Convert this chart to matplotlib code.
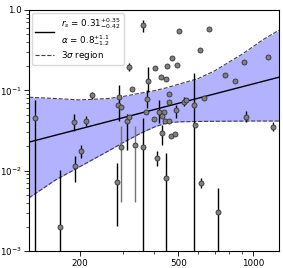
import numpy as np
import matplotlib
matplotlib.use("Agg")
import matplotlib.pyplot as plt
from matplotlib.ticker import LogLocator, NullFormatter

# measurements (x, y, lower / upper error); lower errors > y run off the bottom
x = [131.5, 224.6, 190.1, 211.4, 202.8, 191.9, 167.0, 359.4, 502.5, 662.3,
     613.3, 315.8, 401.7, 447.7, 469.7, 493.4, 424.2, 444.3, 376.1, 324.6,
     287.8, 285.6, 292.4, 372.9, 456.0, 458.1, 526.3, 538.6, 576.2, 633.5,
     773.1, 842.3, 915.5, 1148.6, 936.1, 1199.6, 585.4, 368.4, 417.6, 435.4,
     430.2, 486.5, 396.8, 439.4, 457.2, 309.0, 315.8, 359.4, 427.4, 464.5,
     482.0, 410.0, 444.6, 282.2, 618.9, 719.6]
y = [0.0452, 0.0867, 0.0409, 0.0415, 0.0175, 0.0114, 0.00201, 0.650, 0.540, 0.577,
     0.322, 0.197, 0.187, 0.201, 0.250, 0.204, 0.146, 0.140, 0.132, 0.103,
     0.0819, 0.0657, 0.0629, 0.0780, 0.0900, 0.0726, 0.0726, 0.0758, 0.0653, 0.0796,
     0.1565, 0.1314, 0.2265, 0.2577, 0.0469, 0.0353, 0.0375, 0.0530, 0.0530, 0.0545,
     0.0479, 0.0569, 0.0436, 0.0419, 0.0419, 0.0415, 0.0462, 0.0197, 0.0292, 0.0272,
     0.0282, 0.0143, 0.00822, 0.00716, 0.00712, 0.00303]
err_lo = [0.05, 0.0076, 0.0095, 0.0055, 0.0031, 0.0041, 0.003, 0.113, 0.01, 0.01,
          0.006, 0.024, 0.004, 0.004, 0.005, 0.004, 0.003, 0.003, 0.0365, 0.002,
          0.0404, 0.001, 0.001, 0.0177, 0.002, 0.001, 0.0088, 0.001, 0.07, 0.001,
          0.003, 0.002, 0.004, 0.005, 0.0066, 0.0041, 0.001, 0.001, 0.0138, 0.001,
          0.001, 0.0117, 0.001, 0.001, 0.001, 0.0234, 0.001, 0.025, 0.0083, 0.001,
          0.001, 0.0029, 0.009, 0.0051, 0.001, 0.004]
err_hi = [0.031, 0.0086, 0.0098, 0.0064, 0.0036, 0.0037, 0.0083, 0.111, 0.01, 0.01,
          0.006, 0.022, 0.004, 0.004, 0.005, 0.004, 0.003, 0.003, 0.063, 0.002,
          0.0356, 0.001, 0.001, 0.023, 0.002, 0.001, 0.010, 0.001, 0.099, 0.001,
          0.003, 0.002, 0.004, 0.005, 0.0084, 0.0056, 0.001, 0.001, 0.0228, 0.001,
          0.001, 0.0088, 0.001, 0.001, 0.001, 0.0092, 0.001, 0.0255, 0.0078, 0.001,
          0.001, 0.0033, 0.0084, 0.0053, 0.001, 0.0031]

# two points whose error bars are drawn in grey
gx = [292.4, 332.9]
gy = [0.0197, 0.0207]
g_lo = [0.0156, 0.0166]
g_hi = [0.0163, 0.0153]

# fitted power law and its 3 sigma band
fit_x = [125, 1270]
fit_y = [0.0227, 0.1456]
band_x = [125, 160, 200, 260, 300, 350, 400, 450, 500, 600, 700, 800, 900, 1000, 1100, 1270]
band_hi = [0.082, 0.079, 0.076, 0.079, 0.084, 0.092, 0.099, 0.108, 0.119, 0.140,
           0.175, 0.225, 0.28, 0.35, 0.43, 0.56]
band_lo = [0.0046, 0.0077, 0.0112, 0.0175, 0.0225, 0.029, 0.035, 0.0395, 0.0405, 0.041,
           0.0412, 0.0413, 0.0414, 0.0415, 0.0415, 0.0415]

plt.rcParams['font.size'] = 6.3

fig = plt.figure(figsize=(2.83, 2.68), dpi=100)
ax = fig.add_axes([0.1025, 0.0634, 0.8835, 0.8993])
ax.set_xscale('log')
ax.set_yscale('log')

ax.fill_between(band_x, band_lo, band_hi, color='b', alpha=0.3, lw=0, zorder=1)
ax.plot(band_x, band_hi, '--', color='0.25', lw=0.8, zorder=2, label=r'3$\sigma$ region')
ax.plot(band_x, band_lo, '--', color='0.25', lw=0.8, zorder=2)
ax.plot(fit_x, fit_y, '-', color='k', lw=1.0, zorder=3,
        label='$r_s$ = $0.31^{+0.35}_{-0.42}$\n' + r'$\alpha$ = $0.8^{+1.1}_{-1.2}$')

ax.errorbar(gx, gy, yerr=[g_lo, g_hi], fmt='o', ms=3.6, mfc='0.5', mec='0.2', mew=0.6,
            ecolor='0.45', elinewidth=1.0, capsize=0, zorder=4)
ax.errorbar(x, y, yerr=[err_lo, err_hi], fmt='o', ms=3.6, mfc='0.5', mec='0.2', mew=0.6,
            ecolor='k', elinewidth=1.0, capsize=0, zorder=5)

ax.set_xlim(124.8, 1272)
ax.set_ylim(1e-3, 1.0)

ax.set_xticks([200, 500, 1000])
ax.set_xticklabels(['200', '500', '1000'])
ax.xaxis.set_minor_locator(LogLocator(base=10, subs=np.arange(1, 10)))
ax.xaxis.set_minor_formatter(NullFormatter())
ax.set_yticks([1e-3, 1e-2, 1e-1, 1.0])
ax.set_yticklabels(['$10^{-3}$', '$10^{-2}$', '$10^{-1}$', '1.0'])
ax.tick_params(which='major', length=3.5, width=0.6, pad=2)
ax.tick_params(which='minor', length=2, width=0.5)
for s in ax.spines.values():
    s.set_linewidth(0.8)

h, l = ax.get_legend_handles_labels()
ax.legend(h[::-1], l[::-1], loc='upper left', fontsize=6.3, framealpha=1,
          borderpad=0.35, borderaxespad=0.35, handlelength=2.2, labelspacing=0.1,
          edgecolor='0.85')

fig.savefig('out.png', dpi=100)
